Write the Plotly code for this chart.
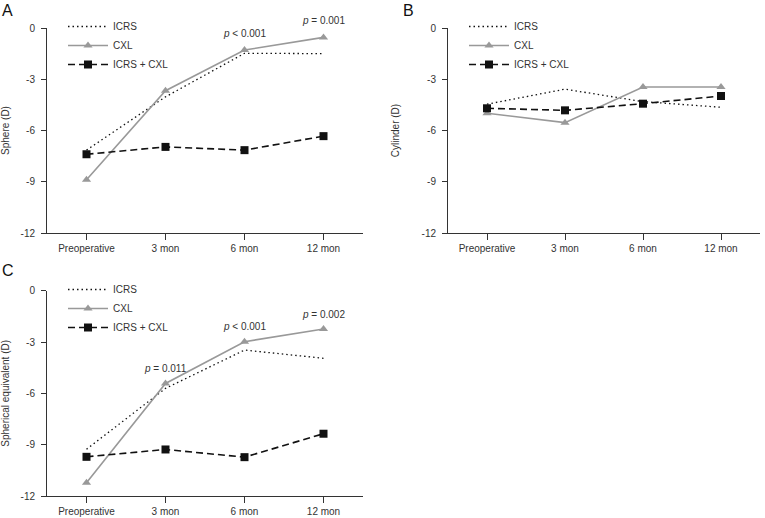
import plotly.graph_objects as go

categories = ["Preoperative", "3 mon", "6 mon", "12 mon"]
y_tickvals = [0, -3, -6, -9, -12]
y_ticktext = ["0", "-3", "-6", "-9", "-12"]

sphere_icrs = [-7.15, -4.03, -1.48, -1.5]
sphere_cxl = [-8.88, -3.67, -1.29, -0.55]
sphere_combo = [-7.39, -6.96, -7.15, -6.33]

cyl_icrs = [-4.46, -3.58, -4.31, -4.64]
cyl_cxl = [-4.99, -5.54, -3.45, -3.45]
cyl_combo = [-4.70, -4.82, -4.43, -3.98]

se_icrs = [-9.27, -5.71, -3.47, -3.95]
se_cxl = [-11.23, -5.42, -2.98, -2.24]
se_combo = [-9.71, -9.28, -9.73, -8.36]

panel_titles = ["Sphere (D)", "Cylinder (D)", "Spherical equivalent (D)"]
panel_letters = ["A", "B", "C"]

sphere_pvals = [("6 mon", "<i>p</i> < 0.001"), ("12 mon", "<i>p</i> = 0.001")]
se_pvals = [("3 mon", "<i>p</i> = 0.011"), ("6 mon", "<i>p</i> < 0.001"), ("12 mon", "<i>p</i> = 0.002")]

FONT = "Liberation Sans, Arial, sans-serif"
TXT = "#333333"
GRAY = "#999999"

fig = go.Figure()

panels = [
    ("x", "y", "legend", sphere_icrs, sphere_cxl, sphere_combo),
    ("x2", "y2", "legend2", cyl_icrs, cyl_cxl, cyl_combo),
    ("x3", "y3", "legend3", se_icrs, se_cxl, se_combo),
]

for xa, ya, lg, icrs, cxl, combo in panels:
    fig.add_trace(go.Scatter(x=categories, y=icrs, name="ICRS", mode="lines",
                             line=dict(color="#111111", width=1.3, dash="1.5px,3px"),
                             xaxis=xa, yaxis=ya, legend=lg, cliponaxis=False))
    fig.add_trace(go.Scatter(x=categories, y=cxl, name="CXL", mode="lines+markers",
                             line=dict(color=GRAY, width=1.6),
                             marker=dict(symbol="triangle-up", size=8, color=GRAY),
                             xaxis=xa, yaxis=ya, legend=lg, cliponaxis=False))
    fig.add_trace(go.Scatter(x=categories, y=combo, name="ICRS + CXL", mode="lines+markers",
                             line=dict(color="#111111", width=1.6, dash="7px,4px"),
                             marker=dict(symbol="square", size=8, color="#111111"),
                             xaxis=xa, yaxis=ya, legend=lg, cliponaxis=False))

W, H = 765, 518
xdomA = [47 / W, 363 / W]
xdomB = [448 / W, 760 / W]
ydomTop = [1 - 233 / H, 1 - 28 / H]
ydomBot = [1 - 496 / H, 1 - 290.7 / H]

def xax(dom, anchor):
    return dict(domain=dom, anchor=anchor, range=[-0.5, 3.5], type="category",
                categoryorder="array", categoryarray=categories,
                showline=True, linecolor="#333333", linewidth=1,
                ticks="outside", ticklen=6, tickcolor="#333333", tickwidth=1,
                showgrid=False, zeroline=False, automargin=False,
                tickfont=dict(family=FONT, size=10, color=TXT))

def yax(dom, anchor, title, standoff):
    return dict(domain=dom, anchor=anchor, range=[-12, 0],
                tickvals=y_tickvals, ticktext=y_ticktext,
                showline=True, linecolor="#333333", linewidth=1,
                ticks="outside", ticklen=5, tickcolor="#333333", tickwidth=1,
                ticklabelstandoff=4,
                showgrid=False, zeroline=False, automargin=False,
                tickfont=dict(family=FONT, size=10, color=TXT),
                title=dict(text=title, font=dict(family=FONT, size=10, color=TXT), standoff=standoff))

def leg(xpx, ypx):
    return dict(x=xpx / W, y=1 - ypx / H, xanchor="left", yanchor="top",
                bgcolor="rgba(0,0,0,0)", borderwidth=0,
                font=dict(family=FONT, size=10, color=TXT),
                itemwidth=40, tracegroupgap=0)

fig.update_layout(
    width=W, height=H, margin=dict(l=0, r=0, t=0, b=0),
    paper_bgcolor="white", plot_bgcolor="white",
    font=dict(family=FONT, size=10, color=TXT),
    showlegend=True,
    xaxis=xax(xdomA, "y"), yaxis=yax(ydomTop, "x", panel_titles[0], 18),
    xaxis2=xax(xdomB, "y2"), yaxis2=yax(ydomTop, "x2", panel_titles[1], 20),
    xaxis3=xax(xdomA, "y3"), yaxis3=yax(ydomBot, "x3", panel_titles[2], 18),
    legend=leg(63, 12),
    legend2=leg(464, 12),
    legend3=leg(63, 275),
)

annos = []
for cat, txt in sphere_pvals:
    idx = categories.index(cat)
    annos.append(dict(x=cat, y=sphere_cxl[idx], xref="x", yref="y", text=txt,
                      showarrow=False, yshift=17, font=dict(family=FONT, size=10, color=TXT)))
for cat, txt in se_pvals:
    idx = categories.index(cat)
    annos.append(dict(x=cat, y=se_cxl[idx], xref="x3", yref="y3", text=txt,
                      showarrow=False, yshift=15, font=dict(family=FONT, size=10, color=TXT)))

letter_pos = [(0, 1), (401 / W, 1), (0, 1 - 260 / H)]
for letter, (lx, ly) in zip(panel_letters, letter_pos):
    annos.append(dict(x=lx, y=ly, xref="paper", yref="paper", text=letter, showarrow=False,
                      xanchor="left", yanchor="top", font=dict(family=FONT, size=16, color="#111111")))

fig.update_layout(annotations=annos)
fig.write_html("out.html", config={"displayModeBar": False},
               post_script="document.body.style.margin='0';document.body.style.overflow='hidden';")
